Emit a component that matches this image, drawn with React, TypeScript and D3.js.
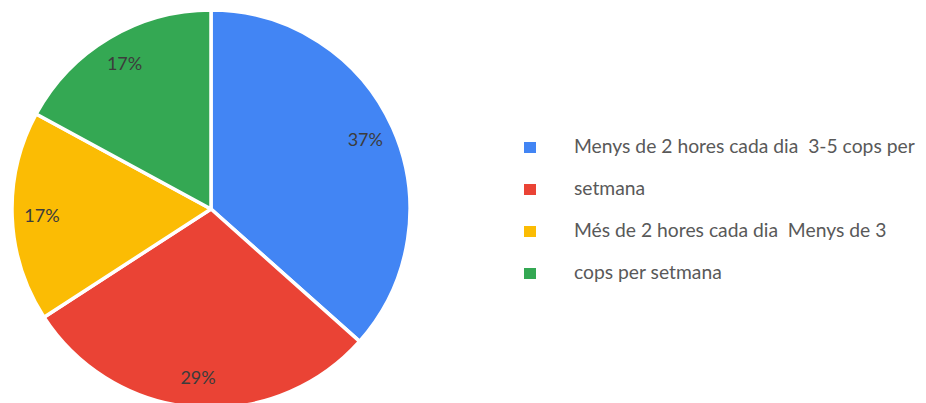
import React from "react";
import * as d3 from "d3";

const categories = ["Menys de 2 hores cada dia", "3-5 cops per setmana", "Més de 2 hores cada dia", "Menys de 3 cops per setmana"];
const counts = [15, 12, 7, 7];
const colors = ["#4285F4", "#EA4335", "#FBBC04", "#34A853"];
const legendLines = [
  "Menys de 2 hores cada dia  3-5 cops per",
  "setmana",
  "Més de 2 hores cada dia  Menys de 3",
  "cops per setmana",
];

const W = 926;
const H = 403;

export default function App() {
  const cx = 211;
  const cy = 209;
  const r = 199;
  const total = d3.sum(counts);
  const pie = d3.pie<number>().sort(null).value((d) => d)(counts);
  const arc = d3.arc<d3.PieArcDatum<number>>().innerRadius(0).outerRadius(r);
  const labelArc = d3.arc<d3.PieArcDatum<number>>().innerRadius(r * 0.85).outerRadius(r * 0.85);
  const legendY = d3.scaleLinear().domain([0, 3]).range([147.5, 273.5]);

  return (
    <svg width={W} height={H} style={{ position: "absolute", left: 0, top: 0, background: "#fff" }}>
      <g transform={`translate(${cx},${cy})`}>
        {pie.map((p, i) => (
          <path key={categories[i]} d={arc(p) || ""} fill={colors[i]} stroke="#fff" strokeWidth={3.5} strokeLinejoin="round" />
        ))}
        {pie.map((p, i) => {
          const [x, y] = labelArc.centroid(p);
          return (
            <text key={"l" + i} x={x} y={y} dy="0.35em" textAnchor="middle" fontFamily="Lato, sans-serif" fontSize={18} fill="#3c3c3c">
              {Math.round((p.value / total) * 100)}%
            </text>
          );
        })}
      </g>
      {legendLines.map((t, i) => (
        <g key={"g" + i}>
          <rect x={524} y={legendY(i) - 5.5} width={12} height={11} fill={colors[i]} />
          <text x={574} y={legendY(i) + 5.5} fontFamily="Lato, sans-serif" fontSize={19.3} fill="#595959" style={{ whiteSpace: "pre" }}>
            {t}
          </text>
        </g>
      ))}
    </svg>
  );
}
